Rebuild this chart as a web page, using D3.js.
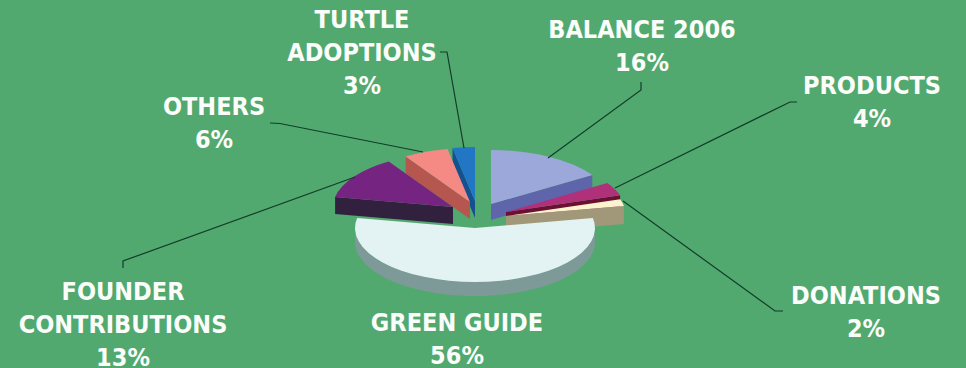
<!DOCTYPE html>
<html>
<head>
<meta charset="utf-8">
<script src="https://cdn.jsdelivr.net/npm/d3@7"></script>
<style>
  html, body { margin: 0; padding: 0; background: #52a96f; }
  svg { display: block; }
  text { font-family: "DejaVu Sans Condensed", "DejaVu Sans", sans-serif; font-stretch: condensed; font-weight: 700; font-size: 25px; fill: #fbfdfb; text-anchor: middle; }
</style>
</head>
<body>
<svg id="chart" width="966" height="368"></svg>
<script>
// Income shares, clockwise from twelve o'clock
const categories = ["BALANCE 2006", "PRODUCTS", "DONATIONS", "GREEN GUIDE", "FOUNDER CONTRIBUTIONS", "OTHERS", "TURTLE ADOPTIONS"];
const shares = [16, 4, 2, 56, 13, 6, 3];

// Wrapped label lines for each category
const labelLines = [["BALANCE 2006"], ["PRODUCTS"], ["DONATIONS"], ["GREEN GUIDE"], ["FOUNDER", "CONTRIBUTIONS"], ["OTHERS"], ["TURTLE", "ADOPTIONS"]];

// Slice styling and layout, one entry per category
const topColors = ["#9ca8da", "#b0307a", "#fdf3cf", "#e3f2f2", "#762481", "#f58a85", "#2277c5"];
const wallColors = ["#5e65aa", "#6a1030", "#a09878", "#7d9a98", "#32203f", "#b5574f", "#15508f"];
const apexes = [[491, 204], [506, 212], [506, 216], [475, 228], [453, 207], [470, 202], [475, 201]];
const depths = [16, 16, 18, 14, 17, 17, 17];
const labelAnchors = [[642, 38], [872, 94], [866, 304], [457, 331], [123, 300], [214, 115], [362, 28]];
const leaders = [
  [[641, 82], [641, 90], [548, 158]],
  [[797, 102], [790, 102], [615, 188]],
  [[783, 311], [775, 311], [623, 201]],
  [],
  [[123, 268], [123, 261], [355, 177]],
  [[270, 123], [280, 123.5], [423, 152]],
  [[440, 52], [447, 52], [464, 148]]
];

const radiusX = 120, radiusY = 54;
const lineHeight = 33;

const svg = d3.select("#chart");

const pie = d3.pie().sort(null).value(d => d);
const slices = pie(shares).map((s, i) => ({
  ...s, i, apex: apexes[i], depth: depths[i]
}));

// Flattened disc: angle measured clockwise from the top, projected onto the ellipse
const project = (s, a, dy = 0) => [
  s.apex[0] + radiusX * Math.sin(a),
  s.apex[1] - radiusY * Math.cos(a) + dy
];
const outline = d3.line();
const arc = d3.arc().innerRadius(0).outerRadius(radiusX);

function wallPolygons(s) {
  const walls = [];
  const drop = p => [p[0], p[1] + s.depth];
  const a0 = s.startAngle, a1 = s.endAngle;
  // A cut face shows only when it turns towards the viewer
  if (Math.sin(a0) < -1e-6) {
    const p = project(s, a0);
    walls.push([s.apex, p, drop(p), drop(s.apex)]);
  }
  if (Math.sin(a1) > 1e-6) {
    const p = project(s, a1);
    walls.push([s.apex, p, drop(p), drop(s.apex)]);
  }
  // Rim is visible along the front half of the ellipse
  const from = Math.max(a0, Math.PI / 2), to = Math.min(a1, Math.PI * 1.5);
  if (to > from) {
    const rim = d3.range(0, 61).map(k => project(s, from + (to - from) * k / 60));
    walls.push(rim.concat(rim.slice().reverse().map(drop)));
  }
  return walls;
}

// Paint from the back of the scene to the front
const paintOrder = [6, 5, 4, 0, 1, 2, 3];
const disc = svg.append("g").selectAll("g")
  .data(paintOrder.map(i => slices[i]))
  .join("g");

disc.selectAll("path.wall")
  .data(s => wallPolygons(s).map(poly => ({ poly, color: wallColors[s.i] })))
  .join("path")
  .attr("class", "wall")
  .attr("d", d => outline(d.poly) + "Z")
  .attr("fill", d => d.color);

disc.append("path")
  .attr("class", "top")
  .attr("transform", s => `translate(${s.apex[0]},${s.apex[1]}) scale(1,${radiusY / radiusX})`)
  .attr("d", s => arc(s))
  .attr("fill", s => topColors[s.i]);

// Leader lines between labels and slices
svg.append("g").selectAll("path")
  .data(leaders.filter(l => l.length))
  .join("path")
  .attr("d", d => outline(d))
  .attr("fill", "none")
  .attr("stroke", "#123d28")
  .attr("stroke-width", 1.2);

// Category names with their percentages below
const labels = svg.append("g").selectAll("text")
  .data(slices)
  .join("text")
  .attr("transform", s => `translate(${labelAnchors[s.i][0]},${labelAnchors[s.i][1]})`);

labels.selectAll("tspan")
  .data(s => labelLines[s.i].concat(`${s.value}%`))
  .join("tspan")
  .attr("x", 0)
  .attr("y", (d, k) => k * lineHeight)
  .text(d => d);
</script>
</body>
</html>
